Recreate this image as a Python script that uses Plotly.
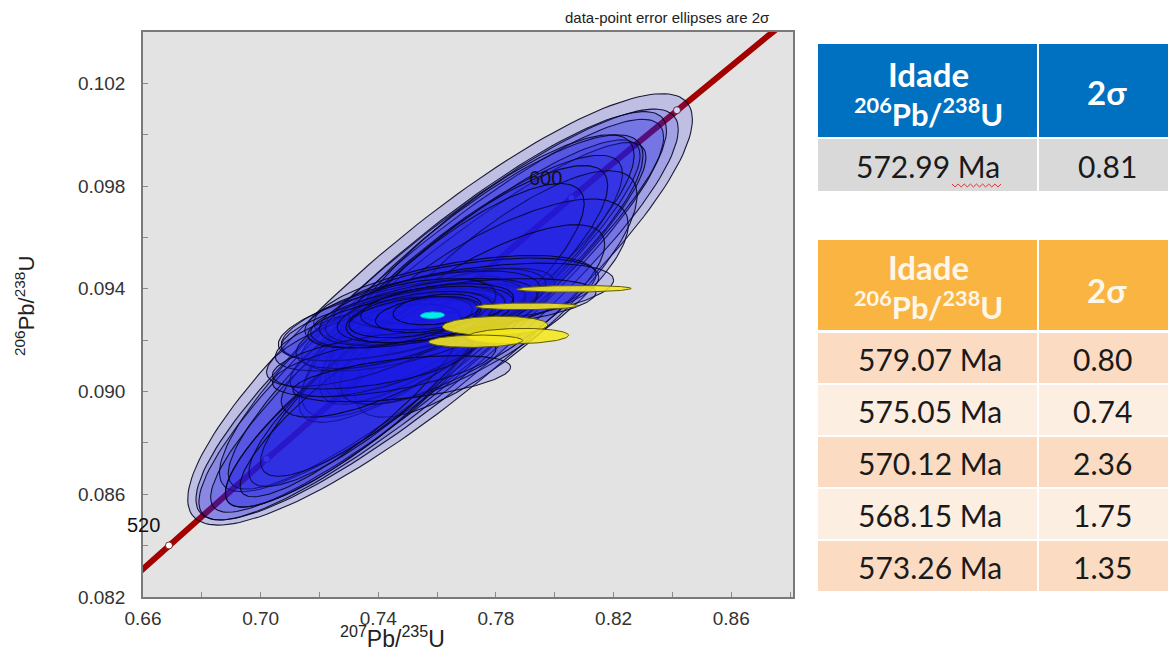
import numpy as np
import plotly.graph_objects as go

# ---------------- data ----------------
# decay constants (1/yr) used for the concordia curve
LAMBDA_238 = 1.55125e-10
LAMBDA_235 = 9.8485e-10
concordia_ages = [505, 515, 525, 535, 545, 555, 565, 575, 585, 595, 605, 615, 625, 635, 645, 655]
tick_ages = [520, 540, 560, 580, 600, 620]
labelled_ages = [520, 600]

# blue data-point 2-sigma error ellipses: centre, half-extent in x and y, correlation
blue_x   = [0.761, 0.760, 0.758, 0.762, 0.757, 0.759, 0.772, 0.768, 0.775, 0.770, 0.765,
            0.736, 0.733, 0.738, 0.740, 0.731, 0.752, 0.748, 0.755, 0.745, 0.758, 0.750,
            0.756, 0.744, 0.760, 0.752, 0.757, 0.766, 0.770, 0.740, 0.735, 0.748, 0.742,
            0.738, 0.775, 0.772, 0.780, 0.757, 0.750, 0.745, 0.776, 0.772, 0.750, 0.754,
            0.746, 0.760]
blue_y   = [0.0932, 0.0930, 0.0928, 0.0935, 0.0925, 0.0930, 0.0945, 0.0940, 0.0950, 0.0942, 0.0938,
            0.0900, 0.0897, 0.0903, 0.0905, 0.0895, 0.0930, 0.0928, 0.0932, 0.0926, 0.0931, 0.0929,
            0.0930, 0.0927, 0.0933, 0.0929, 0.0930, 0.0936, 0.0937, 0.0922, 0.0918, 0.0905, 0.0910,
            0.0912, 0.0935, 0.0930, 0.0938, 0.0928, 0.0920, 0.0915, 0.0938, 0.0934, 0.0931, 0.0929,
            0.0924, 0.0932]
blue_sx  = [0.0858, 0.0820, 0.0790, 0.0760, 0.0740, 0.0700, 0.0580, 0.0550, 0.0520, 0.0480, 0.0450,
            0.0480, 0.0450, 0.0420, 0.0400, 0.0380, 0.0450, 0.0420, 0.0400, 0.0380, 0.0360, 0.0330,
            0.0300, 0.0280, 0.0260, 0.0220, 0.0180, 0.0480, 0.0450, 0.0350, 0.0330, 0.0370, 0.0380,
            0.0340, 0.0500, 0.0450, 0.0480, 0.0430, 0.0400, 0.0380, 0.0440, 0.0420, 0.0300, 0.0250,
            0.0340, 0.0150]
blue_sy  = [0.0084, 0.0080, 0.0078, 0.0074, 0.0072, 0.0068, 0.0055, 0.0052, 0.0050, 0.0046, 0.0043,
            0.0045, 0.0042, 0.0040, 0.0038, 0.0036, 0.0018, 0.0016, 0.0015, 0.0014, 0.0013, 0.0012,
            0.0011, 0.0010, 0.0009, 0.0008, 0.0007, 0.0017, 0.0015, 0.0014, 0.0016, 0.0009, 0.0012,
            0.0011, 0.0040, 0.0035, 0.0048, 0.0020, 0.0022, 0.0025, 0.0012, 0.0010, 0.0013, 0.0010,
            0.0015, 0.0006]
blue_rho = [0.88, 0.90, 0.91, 0.90, 0.92, 0.91, 0.85, 0.86, 0.84, 0.83, 0.82,
            0.88, 0.87, 0.86, 0.85, 0.88, 0.65, 0.60, 0.55, 0.60, 0.50, 0.50,
            0.45, 0.50, 0.40, 0.40, 0.35, 0.55, 0.50, 0.60, 0.65, 0.50, 0.55,
            0.50, 0.75, 0.78, 0.80, 0.70, 0.72, 0.75, 0.45, 0.45, 0.50, 0.40,
            0.60, 0.30]

# yellow ellipses (single-grain analyses of the second table)
yellow_x   = [0.8065, 0.7905, 0.7797, 0.7875, 0.7731]
yellow_y   = [0.0940, 0.09332, 0.09256, 0.09216, 0.09196]
yellow_sx  = [0.0195, 0.0174, 0.0179, 0.0172, 0.0160]
yellow_sy  = [0.00013, 0.00013, 0.00037, 0.00030, 0.00024]
yellow_rho = [0.1, 0.1, 0.1, 0.1, 0.1]

# cyan ellipse (concordia age)
cyan_x, cyan_y, cyan_sx, cyan_sy, cyan_rho = [0.7584], [0.09297], [0.0041], [0.00013], [0.1]

# tables
mean_age = [572.99]
mean_sigma = [0.81]
grain_ages = [579.07, 575.05, 570.12, 568.15, 573.26]
grain_sigmas = [0.80, 0.74, 2.36, 1.75, 1.35]

x_range = [0.66, 0.881]
y_range = [0.082, 0.104]


# ---------------- helpers ----------------
def concordia(t_ma):
    t = np.asarray(t_ma, dtype=float) * 1e6
    return np.exp(LAMBDA_235 * t) - 1, np.exp(LAMBDA_238 * t) - 1


def ellipse(x0, y0, sx, sy, rho, n=160):
    a = np.linspace(0, 2 * np.pi, n)
    x = x0 + sx * np.cos(a)
    y = y0 + sy * (rho * np.cos(a) + np.sqrt(1 - rho ** 2) * np.sin(a))
    return x, y


# the page adds an 8 px body margin; plot area in the reference spans x 143..793, y 32..597
OFF = 8
PL, PR, PT, PB = 143, 793, 32, 597
PW, PH = PR - PL, PB - PT
L, T = PL - OFF, PT - OFF
R = 1176 - L - PW
B = 651 - T - PH


def px(xp):
    return (xp - PL) / PW


def py(yp):
    return (PB - yp) / PH


fig = go.Figure()

# concordia curve
cx, cy = concordia(np.linspace(concordia_ages[0], concordia_ages[-1], 200))
fig.add_trace(go.Scatter(x=cx, y=cy, mode="lines", line=dict(color="#a30000", width=6),
                         hoverinfo="skip", showlegend=False))
tx, ty = concordia(tick_ages)
fig.add_trace(go.Scatter(x=tx, y=ty, mode="markers",
                         marker=dict(color="white", size=7, symbol="circle",
                                     line=dict(color="#600000", width=0.8)),
                         hoverinfo="skip", showlegend=False))

# blue ellipses
order = np.argsort(-np.array(blue_sx) * np.array(blue_sy))
for i in order:
    ex, ey = ellipse(blue_x[i], blue_y[i], blue_sx[i], blue_sy[i], blue_rho[i])
    fig.add_trace(go.Scatter(x=ex, y=ey, mode="lines", fill="toself",
                             fillcolor="rgba(25,25,230,0.18)",
                             line=dict(color="rgba(5,5,35,0.9)", width=1.1),
                             hoverinfo="skip", showlegend=False))

# yellow ellipses
for i in range(len(yellow_x)):
    ex, ey = ellipse(yellow_x[i], yellow_y[i], yellow_sx[i], yellow_sy[i], yellow_rho[i])
    fig.add_trace(go.Scatter(x=ex, y=ey, mode="lines", fill="toself",
                             fillcolor="rgba(245,232,30,0.88)",
                             line=dict(color="#5f5a00", width=1),
                             hoverinfo="skip", showlegend=False))

# cyan ellipse
ex, ey = ellipse(cyan_x[0], cyan_y[0], cyan_sx[0], cyan_sy[0], cyan_rho[0])
fig.add_trace(go.Scatter(x=ex, y=ey, mode="lines", fill="toself", fillcolor="#00eef2",
                         line=dict(color="#00b5c0", width=1), hoverinfo="skip", showlegend=False))

# age labels on concordia
lx, ly = concordia(labelled_ages)
for a, xa, ya in zip(labelled_ages, lx, ly):
    fig.add_annotation(x=xa, y=ya, text=str(a), showarrow=False, xanchor="right", yanchor="middle",
                       xshift=-7, yshift=20, font=dict(family="Liberation Sans", size=20, color="#111"))


def ann(xc, yc, s, size, color, family="Liberation Sans", angle=0):
    fig.add_annotation(xref="paper", yref="paper", x=px(xc), y=py(yc), text=s, showarrow=False,
                       xanchor="center", yanchor="middle", textangle=angle,
                       font=dict(family=family, size=size, color=color))


# caption
ann(667, 18, "data-point error ellipses are 2σ", 15, "#222")
# axis titles
ann(392, 637, "<sup>207</sup>Pb/<sup>235</sup>U", 23, "#222")
ann(25, 306, "<sup>206</sup>Pb/<sup>238</sup>U", 22, "#222", angle=-90)

# ---------------- tables ----------------
shapes = []


def rect(x0, y0, x1, y1, color):
    shapes.append(dict(type="rect", xref="paper", yref="paper", x0=px(x0), x1=px(x1),
                       y0=py(y1), y1=py(y0), fillcolor=color, line=dict(width=0), layer="above"))


def text(xc, yc, s, size, color, bold=False):
    ann(xc, yc, ("<b>%s</b>" % s) if bold else s, size, color, family="Lato")


TX0, TXM, TX1 = 818, 1038, 1176
# table 1 (blue)
rect(TX0, 44, TXM - 1, 137, "#0070c0")
rect(TXM + 1, 44, TX1, 137, "#0070c0")
rect(TX0, 139, TXM - 1, 191, "#d9d9d9")
rect(TXM + 1, 139, TX1, 191, "#d9d9d9")
text(928, 74, "Idade", 33, "white", True)
text(928, 112, "<sup>206</sup>Pb/<sup>238</sup>U", 31, "white", True)
text(1107, 92, "2σ", 33, "white", True)
text(928, 166, "%.2f Ma" % mean_age[0], 30, "#1a1a1a")
text(1107, 166, "%.2f" % mean_sigma[0], 30, "#1a1a1a")
# spell-check squiggle under "Ma"
zx = np.linspace(952, 1001, 17)
zy = np.where(np.arange(17) % 2 == 0, 184, 187)
shapes.append(dict(type="path", xref="paper", yref="paper", layer="above",
                   path="M " + " L ".join("%f,%f" % (px(a), py(b)) for a, b in zip(zx, zy)),
                   line=dict(color="#e03030", width=1)))

# table 2 (orange)
rect(TX0, 240, TXM - 1, 330, "#f9b442")
rect(TXM + 1, 240, TX1, 330, "#f9b442")
text(928, 267, "Idade", 33, "#fff6ea", True)
text(928, 305, "<sup>206</sup>Pb/<sup>238</sup>U", 31, "#fff6ea", True)
text(1107, 290, "2σ", 33, "#fff6ea", True)
row_cols = ["#fbdcc2", "#fdeee2"]
for k, (age, sig) in enumerate(zip(grain_ages, grain_sigmas)):
    y0 = 333 + k * 52
    c = row_cols[k % 2]
    rect(TX0, y0, TXM - 1, y0 + 50, c)
    rect(TXM + 1, y0, TX1, y0 + 50, c)
    text(930, y0 + 26, "%.2f Ma" % age, 30, "#1a1a1a")
    text(1102, y0 + 26, "%.2f" % sig, 30, "#1a1a1a")

axis_common = dict(showline=True, mirror=True, linecolor="#7a7a7a", linewidth=1.5,
                   showgrid=False, zeroline=False, ticks="inside", ticklen=5, tickcolor="#8a8a8a",
                   tickfont=dict(family="Liberation Sans", size=19, color="#333"))

fig.update_layout(
    width=1176, height=651,
    margin=dict(l=L, r=R, t=T, b=B),
    paper_bgcolor="white", plot_bgcolor="#e3e3e3",
    showlegend=False, shapes=shapes,
    xaxis=dict(range=x_range, tick0=0.66, dtick=0.04, tickformat=".2f", ticklabelstandoff=3,
               minor=dict(ticks="inside", dtick=0.02, tick0=0.66, ticklen=5, tickcolor="#8a8a8a"),
               **axis_common),
    yaxis=dict(range=y_range, tick0=0.082, dtick=0.004, tickformat=".3f", ticklabelstandoff=12,
               minor=dict(ticks="inside", dtick=0.002, tick0=0.082, ticklen=5, tickcolor="#8a8a8a"),
               **axis_common),
)

fig.write_html("out.html")
